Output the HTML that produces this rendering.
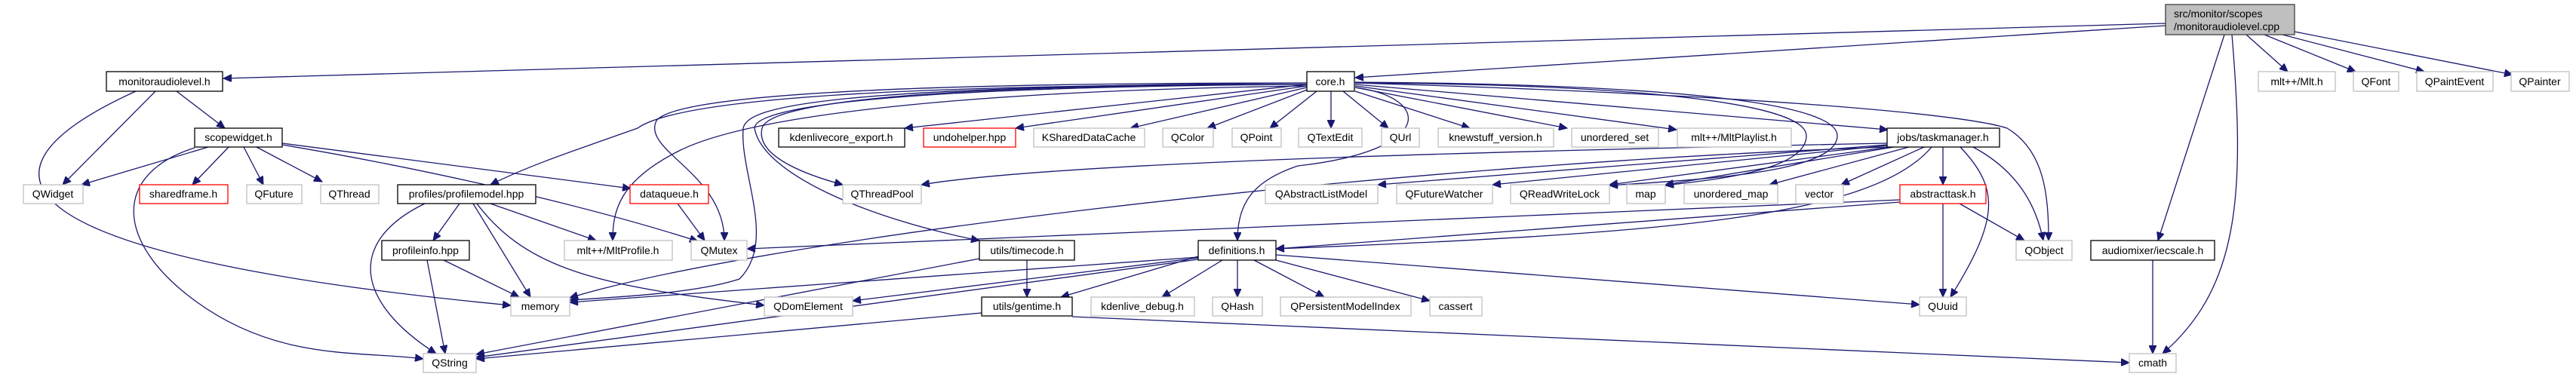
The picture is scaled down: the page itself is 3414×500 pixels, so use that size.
<!DOCTYPE html>
<html><head><meta charset="utf-8"><style>
html,body{margin:0;padding:0;background:#fff;}
svg{display:block;}
text{font-family:"Liberation Sans",sans-serif;font-size:14px;fill:#000;text-anchor:middle;}
.e{fill:none;stroke:#191970;stroke-width:1.3;marker-end:url(#a);}
.g{fill:#fff;stroke:#bfbfbf;stroke-width:1.3;}
.b{fill:#fff;stroke:#000;stroke-width:1.3;}
.r{fill:#fff;stroke:#ff0000;stroke-width:1.3;}
</style></head><body>
<svg width="3414" height="500" viewBox="0 0 3414 500" xmlns="http://www.w3.org/2000/svg">
<defs><marker id="a" markerUnits="userSpaceOnUse" markerWidth="12" markerHeight="10" refX="11" refY="5" orient="auto"><path d="M0,0 L11,5 L0,10 z" fill="#191970" stroke="#191970"/></marker></defs>
<g>
<!-- src -->
<path class="e" d="M2870,31 L296,104"/>
<path class="e" d="M2870,34 L1796,103"/>
<path class="e" d="M2977,46 L3032,95"/>
<path class="e" d="M3001,46 L3122,95"/>
<path class="e" d="M3025,46 L3213,95"/>
<path class="e" d="M3041,42 L3330,99"/>
<path class="e" d="M2948,46 L2860,319"/>
<path class="e" d="M2958,46 C2975,250 2970,380 2866,469"/>
<!-- monitoraudiolevel -->
<path class="e" d="M234,121 L298,170"/>
<path class="e" d="M206,121 L83,245"/>
<path class="e" d="M180,121 C-60,230 0,340 677,405"/>
<!-- scopewidget -->
<path class="e" d="M276,195 L108,245"/>
<path class="e" d="M303,195 L255,245"/>
<path class="e" d="M323,195 L349,245"/>
<path class="e" d="M340,195 L427,241"/>
<path class="e" d="M258,196 C150,230 150,320 260,400 S480,465 561,476"/>
<path class="e" d="M374,190 L836,250"/>
<path class="e" d="M374,192 C600,230 800,280 925,320"/>
<!-- profilemodel -->
<path class="e" d="M609,270 L574,319"/>
<path class="e" d="M627,270 L703,394"/>
<path class="e" d="M563,270 C460,320 470,400 578,469"/>
<path class="e" d="M650,270 L790,319"/>
<path class="e" d="M632,270 C700,360 800,380 1013,405"/>
<path class="e" d="M588,345 L688,394"/>
<path class="e" d="M566,345 L590,469"/>
<path class="e" d="M898,270 L934,319"/>
<!-- core -->
<path class="e" d="M1732,112 L1199,170"/>
<path class="e" d="M1732,114 L1346,170"/>
<path class="e" d="M1732,116 L1498,170"/>
<path class="e" d="M1735,118 L1600,170"/>
<path class="e" d="M1745,121 L1683,170"/>
<path class="e" d="M1764,121 L1764,170"/>
<path class="e" d="M1780,121 L1840,170"/>
<path class="e" d="M1796,121 L1948,170"/>
<path class="e" d="M1796,116 L2077,170"/>
<path class="e" d="M1796,114 L2222,172"/>
<path class="e" d="M1796,112 L2502,172"/>
<path class="e" d="M1796,110 C2300,125 2600,150 2660,170 C2710,200 2715,260 2715,319"/>
<path class="e" d="M1732,112 C1200,112 900,130 845,170 C760,200 700,220 650,245"/>
<path class="e" d="M1732,110 C1300,110 900,120 870,160 C850,200 960,230 960,319"/>
<path class="e" d="M1732,112 C1300,112 1020,130 1010,170 C1000,210 1080,235 1117,245"/>
<path class="e" d="M1732,112 C1200,115 1000,140 1000,170 C1010,230 1150,290 1298,319"/>
<path class="e" d="M1732,110 C1100,115 990,140 985,170 C980,230 1030,320 980,370 C920,390 800,395 755,398"/>
<path class="e" d="M1796,110 C2200,112 2394,140 2394,180 C2394,230 2250,240 2207,246"/>
<path class="e" d="M1796,109 C2250,112 2435,140 2435,180 C2435,230 2250,238 2133,246"/>
<path class="e" d="M1732,114 C1300,120 1000,150 900,200 C820,240 812,280 812,319"/>
<path class="e" d="M1796,116 C1900,130 1900,200 1720,220 C1660,240 1640,270 1640,319"/>
<!-- taskmanager -->
<path class="e" d="M2501,190 C2000,200 1400,215 1221,245"/>
<path class="e" d="M2501,192 L1826,245"/>
<path class="e" d="M2501,193 L1978,245"/>
<path class="e" d="M2505,195 L2133,245"/>
<path class="e" d="M2510,195 L2207,245"/>
<path class="e" d="M2530,195 L2345,245"/>
<path class="e" d="M2550,195 L2440,245"/>
<path class="e" d="M2575,195 L2575,245"/>
<path class="e" d="M2615,195 C2680,230 2700,280 2708,319"/>
<path class="e" d="M2598,195 C2650,250 2650,290 2585,394"/>
<path class="e" d="M2560,195 C2480,290 2200,310 1691,330"/>
<path class="e" d="M2501,195 C1800,220 1000,320 755,395"/>
<!-- abstracttask -->
<path class="e" d="M2518,265 L990,330"/>
<path class="e" d="M2518,268 L1691,330"/>
<path class="e" d="M2597,270 L2683,319"/>
<path class="e" d="M2575,270 L2575,394"/>
<!-- timecode -->
<path class="e" d="M1361,345 L1361,394"/>
<path class="e" d="M1298,343 L631,470"/>
<!-- definitions -->
<path class="e" d="M1588,340 L1406,394"/>
<path class="e" d="M1620,345 L1540,394"/>
<path class="e" d="M1640,345 L1640,394"/>
<path class="e" d="M1662,345 L1755,394"/>
<path class="e" d="M1691,345 L1895,399"/>
<path class="e" d="M1691,338 L2544,404"/>
<path class="e" d="M1588,342 L1130,399"/>
<path class="e" d="M1588,341 L755,401"/>
<path class="e" d="M1588,344 L631,474"/>
<!-- gentime -->
<path class="e" d="M1301,415 L631,476"/>
<path class="e" d="M1421,420 L2822,481"/>
<path class="e" d="M2853,345 L2853,469"/>
</g>
<g>
<rect x="2870" y="6" width="171" height="40" fill="#bfbfbf" stroke="#404040" stroke-width="1.3"/>
<text x="2881" y="23" style="text-anchor:start">src/monitor/scopes</text>
<text x="2881" y="40" style="text-anchor:start">/monitoraudiolevel.cpp</text>

<rect class="b" x="141" y="95" width="154" height="26"/><text x="218" y="113">monitoraudiolevel.h</text>
<rect class="b" x="1732" y="95" width="63" height="26"/><text x="1763" y="113">core.h</text>
<rect class="g" x="2993" y="95" width="102" height="26"/><text x="3044" y="113">mlt++/Mlt.h</text>
<rect class="g" x="3119" y="95" width="60" height="26"/><text x="3149" y="113">QFont</text>
<rect class="g" x="3203" y="95" width="101" height="26"/><text x="3253" y="113">QPaintEvent</text>
<rect class="g" x="3328" y="95" width="77" height="26"/><text x="3366" y="113">QPainter</text>

<rect class="b" x="258" y="170" width="116" height="25"/><text x="316" y="187">scopewidget.h</text>
<rect class="b" x="1032" y="170" width="167" height="25"/><text x="1115" y="187">kdenlivecore_export.h</text>
<rect class="r" x="1224" y="170" width="122" height="25"/><text x="1285" y="187">undohelper.hpp</text>
<rect class="g" x="1370" y="170" width="147" height="25"/><text x="1443" y="187">KSharedDataCache</text>
<rect class="g" x="1541" y="170" width="67" height="25"/><text x="1574" y="187">QColor</text>
<rect class="g" x="1633" y="170" width="65" height="25"/><text x="1665" y="187">QPoint</text>
<rect class="g" x="1721" y="170" width="84" height="25"/><text x="1763" y="187">QTextEdit</text>
<rect class="g" x="1831" y="170" width="50" height="25"/><text x="1856" y="187">QUrl</text>
<rect class="g" x="1906" y="170" width="153" height="25"/><text x="1982" y="187">knewstuff_version.h</text>
<rect class="g" x="2083" y="170" width="115" height="25"/><text x="2140" y="187">unordered_set</text>
<rect class="g" x="2223" y="170" width="151" height="25"/><text x="2298" y="187">mlt++/MltPlaylist.h</text>
<rect class="b" x="2501" y="170" width="149" height="25"/><text x="2575" y="187">jobs/taskmanager.h</text>

<rect class="g" x="31" y="245" width="79" height="25"/><text x="70" y="262">QWidget</text>
<rect class="r" x="185" y="245" width="117" height="25"/><text x="243" y="262">sharedframe.h</text>
<rect class="g" x="327" y="245" width="73" height="25"/><text x="363" y="262">QFuture</text>
<rect class="g" x="425" y="245" width="77" height="25"/><text x="463" y="262">QThread</text>
<rect class="b" x="527" y="245" width="183" height="25"/><text x="618" y="262">profiles/profilemodel.hpp</text>
<rect class="r" x="835" y="245" width="104" height="25"/><text x="887" y="262">dataqueue.h</text>
<rect class="g" x="1117" y="245" width="104" height="25"/><text x="1169" y="262">QThreadPool</text>
<rect class="g" x="1677" y="245" width="149" height="25"/><text x="1751" y="262">QAbstractListModel</text>
<rect class="g" x="1851" y="245" width="127" height="25"/><text x="1914" y="262">QFutureWatcher</text>
<rect class="g" x="2002" y="245" width="131" height="25"/><text x="2067" y="262">QReadWriteLock</text>
<rect class="g" x="2156" y="245" width="51" height="25"/><text x="2181" y="262">map</text>
<rect class="g" x="2232" y="245" width="124" height="25"/><text x="2294" y="262">unordered_map</text>
<rect class="g" x="2380" y="245" width="63" height="25"/><text x="2411" y="262">vector</text>
<rect class="r" x="2518" y="245" width="114" height="25"/><text x="2575" y="262">abstracttask.h</text>

<rect class="b" x="506" y="319" width="116" height="26"/><text x="564" y="337">profileinfo.hpp</text>
<rect class="g" x="748" y="319" width="143" height="26"/><text x="819" y="337">mlt++/MltProfile.h</text>
<rect class="g" x="916" y="319" width="74" height="26"/><text x="953" y="337">QMutex</text>
<rect class="b" x="1298" y="319" width="126" height="26"/><text x="1361" y="337">utils/timecode.h</text>
<rect class="b" x="1588" y="319" width="103" height="26"/><text x="1639" y="337">definitions.h</text>
<rect class="g" x="2672" y="319" width="74" height="26"/><text x="2709" y="337">QObject</text>
<rect class="b" x="2771" y="319" width="164" height="26"/><text x="2853" y="337">audiomixer/iecscale.h</text>

<rect class="g" x="677" y="394" width="78" height="25"/><text x="716" y="411">memory</text>
<rect class="g" x="1013" y="394" width="117" height="25"/><text x="1071" y="411">QDomElement</text>
<rect class="b" x="1301" y="394" width="120" height="25"/><text x="1361" y="411">utils/gentime.h</text>
<rect class="g" x="1446" y="394" width="137" height="25"/><text x="1514" y="411">kdenlive_debug.h</text>
<rect class="g" x="1607" y="394" width="66" height="25"/><text x="1640" y="411">QHash</text>
<rect class="g" x="1697" y="394" width="173" height="25"/><text x="1783" y="411">QPersistentModelIndex</text>
<rect class="g" x="1895" y="394" width="69" height="25"/><text x="1929" y="411">cassert</text>
<rect class="g" x="2544" y="394" width="62" height="25"/><text x="2575" y="411">QUuid</text>

<rect class="g" x="561" y="469" width="70" height="25"/><text x="596" y="486">QString</text>
<rect class="g" x="2822" y="469" width="62" height="25"/><text x="2853" y="486">cmath</text>
</g>
</svg>
</body></html>
